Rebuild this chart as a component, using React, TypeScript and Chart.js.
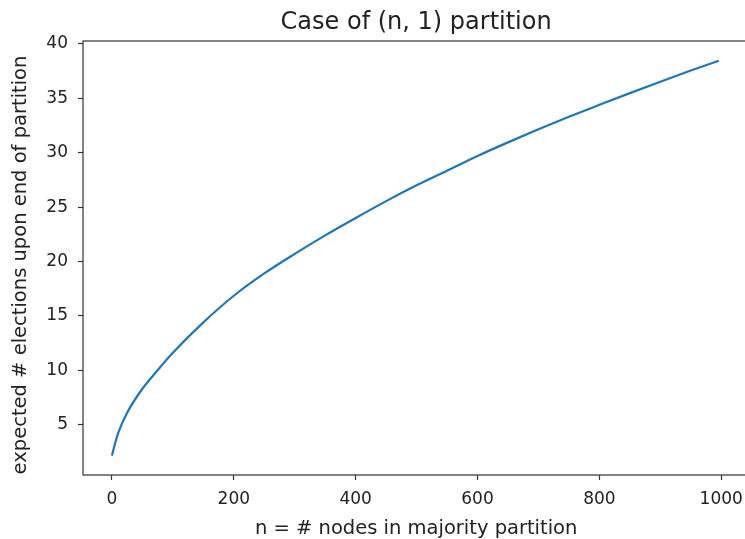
import React, { useEffect, useRef } from "react";
import { Chart, registerables } from "chart.js";

Chart.register(...registerables);

// n = # nodes in majority partition
const nValues = [0, 5, 10, 25, 50, 75, 100, 150, 200, 250, 300, 350, 400, 450, 500, 550, 600, 650, 700, 750, 800, 850, 900, 950, 996];
// expected # elections upon end of partition
const expectedElections = [2.15, 3.25, 4.2, 6.1, 8.3, 10.0, 11.6, 14.4, 16.85, 18.9, 20.7, 22.4, 24.0, 25.55, 27.0, 28.35, 29.7, 30.95, 32.15, 33.3, 34.4, 35.48, 36.53, 37.55, 38.45];

const xTickValues = [0, 200, 400, 600, 800, 1000];
const yTickValues = [5, 10, 15, 20, 25, 30, 35, 40];

const titleText = "Case of (n, 1) partition";
const xLabel = "n = # nodes in majority partition";
const yLabel = "expected # elections upon end of partition";

const FONT = "'DejaVu Sans', 'Liberation Sans', sans-serif";
const TEXT = "#222222";
const SPINE = "#333333";

export default function App() {
  const ref = useRef<HTMLCanvasElement | null>(null);

  useEffect(() => {
    document.body.style.margin = "0";
    const canvas = ref.current;
    if (!canvas) return;

    const framePlugin = {
      id: "frame",
      afterDraw(chart: any) {
        const { ctx, chartArea: a } = chart;
        ctx.save();
        ctx.strokeStyle = SPINE;
        ctx.lineWidth = 1.2;
        ctx.strokeRect(a.left, a.top, a.right - a.left, a.bottom - a.top);
        // y axis label
        ctx.fillStyle = TEXT;
        ctx.font = `19.5px ${FONT}`;
        ctx.textAlign = "center";
        ctx.textBaseline = "middle";
        ctx.translate(21, (a.top + a.bottom) / 2 + 7);
        ctx.rotate(-Math.PI / 2);
        ctx.fillText(yLabel, 0, 0);
        ctx.restore();
      },
    };

    const chart = new Chart(canvas, {
      type: "line",
      data: {
        datasets: [
          {
            data: nValues.map((n, i) => ({ x: n, y: expectedElections[i] })),
            borderColor: "#1f77b4",
            borderWidth: 2.2,
            pointRadius: 0,
            cubicInterpolationMode: "monotone",
            fill: false,
          },
        ],
      },
      options: {
        responsive: false,
        animation: false,
        devicePixelRatio: 1,
        layout: { padding: { left: 0, right: 1.4, top: 0, bottom: 0 } },
        plugins: {
          legend: { display: false },
          tooltip: { enabled: false },
          title: {
            display: true,
            text: titleText,
            fullSize: false,
            color: TEXT,
            font: { family: FONT, size: 24, weight: "normal", lineHeight: 1.2 },
            padding: { top: 8.6, bottom: 3.6 },
          },
        },
        scales: {
          x: {
            type: "linear",
            min: -47.5,
            max: 1046,
            afterBuildTicks: (axis: any) => {
              axis.ticks = xTickValues.map((v) => ({ value: v }));
            },
            afterFit: (axis: any) => {
              axis.height = 64;
            },
            border: { display: false },
            grid: {
              display: true,
              drawOnChartArea: false,
              drawTicks: true,
              tickLength: 5,
              tickColor: SPINE,
              tickWidth: 1.2,
            },
            ticks: {
              color: TEXT,
              font: { family: FONT, size: 17 },
              padding: 9,
              maxRotation: 0,
              autoSkip: false,
              callback: (v: any) => String(v),
            },
            title: {
              display: true,
              text: xLabel,
              color: TEXT,
              font: { family: FONT, size: 19.5, lineHeight: 1 },
              padding: { top: 0, bottom: 0 },
            },
          },
          y: {
            type: "linear",
            min: 0.37,
            max: 40.27,
            afterBuildTicks: (axis: any) => {
              axis.ticks = yTickValues.map((v) => ({ value: v }));
            },
            afterFit: (axis: any) => {
              axis.width = 83;
            },
            border: { display: false },
            grid: {
              display: true,
              drawOnChartArea: false,
              drawTicks: true,
              tickLength: 5,
              tickColor: SPINE,
              tickWidth: 1.2,
            },
            ticks: {
              color: TEXT,
              font: { family: FONT, size: 17 },
              padding: 10,
              autoSkip: false,
              callback: (v: any) => String(v),
            },
            title: { display: false },
          },
        },
      },
      plugins: [framePlugin],
    } as any);

    return () => chart.destroy();
  }, []);

  return (
    <div style={{ width: 745, height: 539, overflow: "hidden", position: "relative" }}>
      <canvas ref={ref} width={752} height={539} style={{ display: "block" }} />
    </div>
  );
}
